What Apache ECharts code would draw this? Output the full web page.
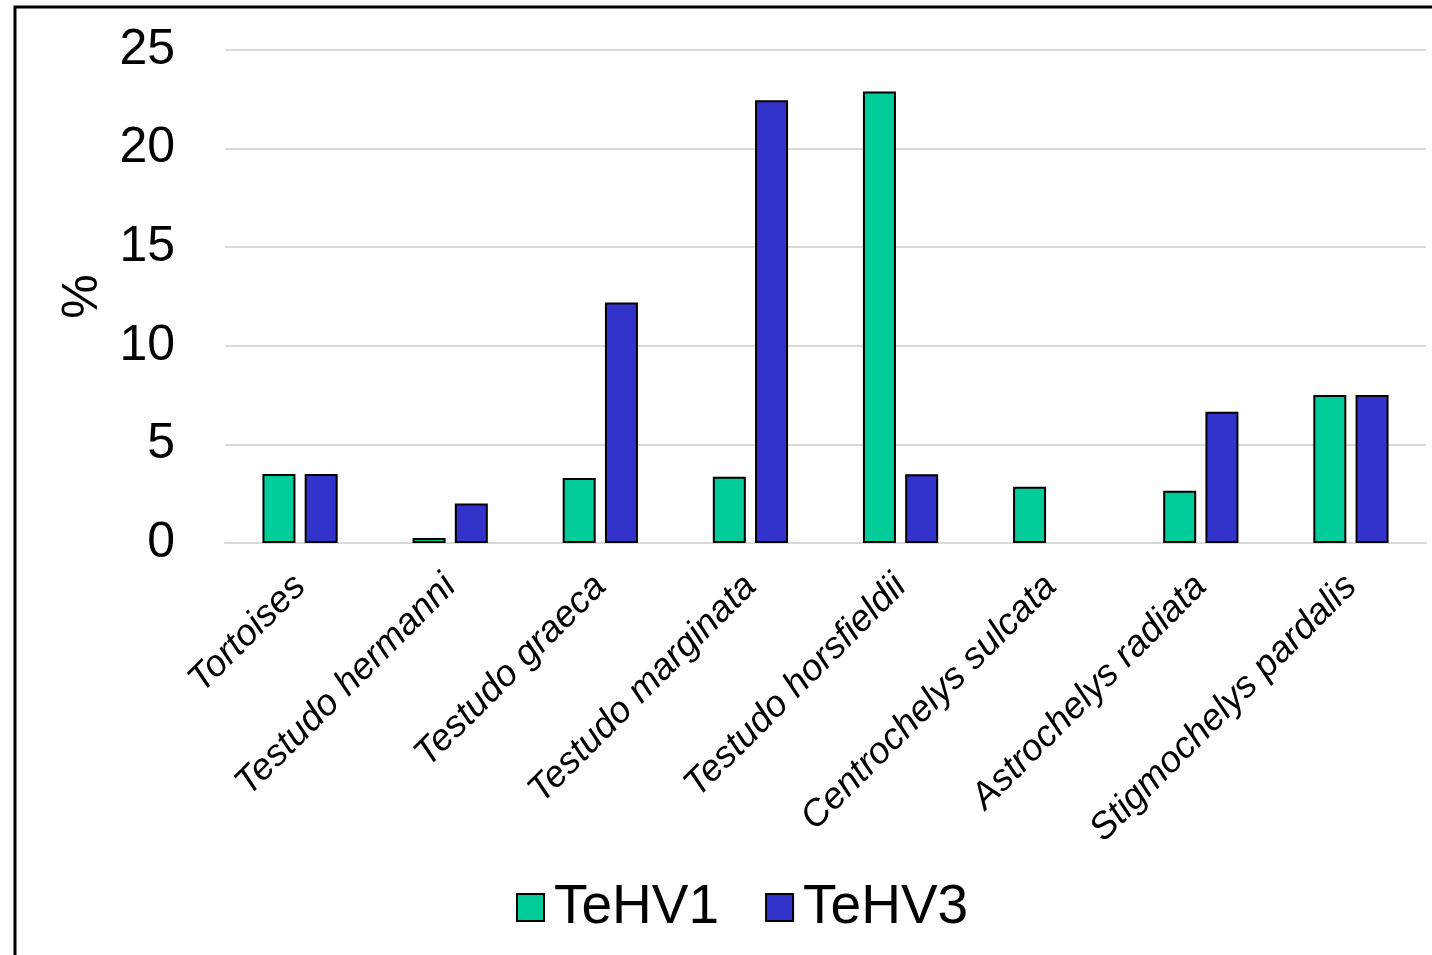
<!DOCTYPE html>
<html>
<head>
<meta charset="utf-8">
<script src="https://cdn.jsdelivr.net/npm/echarts@6/dist/echarts.min.js"></script>
<style>
  html, body { margin: 0; padding: 0; background: #fff; }
  #chart { width: 1432px; height: 955px; }
</style>
</head>
<body>
<div id="chart"></div>
<script>
// Species categories along the x axis
const categories = [
  'Tortoises',
  'Testudo hermanni',
  'Testudo graeca',
  'Testudo marginata',
  'Testudo horsfieldii',
  'Centrochelys sulcata',
  'Astrochelys radiata',
  'Stigmochelys pardalis'
];

// Percentage per species for each herpesvirus
const tehv1 = [3.5, 0.25, 3.3, 3.36, 22.9, 2.85, 2.65, 7.5];
const tehv3 = [3.5, 2.0, 12.2, 22.45, 3.48, 0, 6.66, 7.5];

// Y axis range
const yMin = 0;
const yMax = 25;
const yStep = 5;

const FONT = '"Liberation Sans", Arial, sans-serif';

// A zero value gets no outline, so no stray line sits on the axis
function barData(values) {
  return values.map(v => v === 0 ? { value: v, itemStyle: { borderWidth: 0 } } : v);
}

const chart = echarts.init(document.getElementById('chart'), null, { renderer: 'canvas' });

chart.setOption({
  backgroundColor: '#ffffff',
  animation: false,
  textStyle: { fontFamily: FONT, color: '#000' },
  graphic: [{
    type: 'rect',
    shape: { x: 15, y: 7, width: 1500, height: 1000 },
    style: { fill: 'none', stroke: '#000', lineWidth: 3 },
    silent: true,
    z: 100
  }],
  grid: {
    left: 225,
    right: 6,
    top: 50,
    bottom: 412,
    containLabel: false
  },
  legend: {
    left: 511,
    top: 875,
    itemWidth: 27,
    itemHeight: 27,
    itemGap: 46,
    icon: 'rect',
    textStyle: {
      fontFamily: FONT,
      fontSize: 55,
      color: '#000',
      padding: [0, 0, 0, 5]
    },
    data: ['TeHV1', 'TeHV3']
  },
  xAxis: {
    type: 'category',
    data: categories,
    axisLine: { show: true, lineStyle: { color: '#d9d9d9', width: 2 } },
    axisTick: { show: false },
    axisLabel: {
      interval: 0,
      rotate: 45,
      margin: 38,
      fontFamily: FONT,
      fontSize: 37,
      fontStyle: 'italic',
      color: '#000'
    }
  },
  yAxis: {
    type: 'value',
    min: yMin,
    max: yMax,
    interval: yStep,
    name: '%',
    nameLocation: 'middle',
    nameGap: 115,
    nameTextStyle: { fontFamily: FONT, fontSize: 50, color: '#000' },
    axisLine: { show: false },
    axisTick: { show: false },
    axisLabel: {
      margin: 50,
      fontFamily: FONT,
      fontSize: 50,
      color: '#000'
    },
    splitLine: { lineStyle: { color: '#d9d9d9', width: 2 } }
  },
  series: [
    {
      name: 'TeHV1',
      type: 'bar',
      data: barData(tehv1),
      barWidth: 33,
      barGap: '28%',
      itemStyle: { color: '#00cc99', borderColor: '#000', borderWidth: 2 }
    },
    {
      name: 'TeHV3',
      type: 'bar',
      data: barData(tehv3),
      barWidth: 33,
      barGap: '28%',
      itemStyle: { color: '#3333cc', borderColor: '#000', borderWidth: 2 }
    }
  ]
});
</script>
</body>
</html>
